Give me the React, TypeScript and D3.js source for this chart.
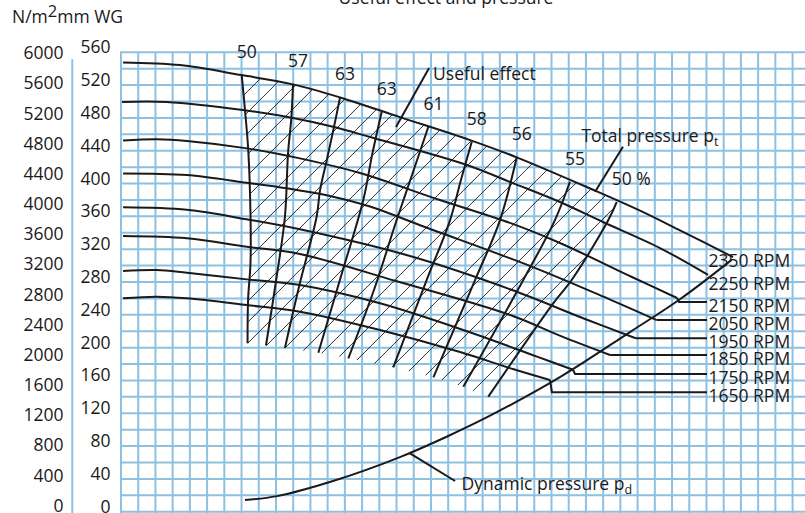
import React from 'react';
import * as d3 from 'd3';

type P = [number, number];

// ---------- DATA (flow in grid cells, pressure in mm WG) ----------
const rpmNames = ['2350 RPM', '2250 RPM', '2150 RPM', '2050 RPM', '1950 RPM', '1850 RPM', '1750 RPM', '1650 RPM'];

const rpm2350: P[] = [[0.12, 547.7], [3.43, 544.5], [7.01, 532.2], [9.99, 520.9], [12.72, 505], [16.2, 481], [20.27, 453], [22.98, 432], [27.41, 392.5], [30.14, 367], [32.46, 343], [35.54, 310.4]];
const rpm2250: P[] = [[0.06, 499.4], [2.65, 499.4], [7.08, 489.6], [9.99, 479.9], [12.31, 469.2], [14.46, 456.7], [20.08, 422.6], [22.76, 400.5], [25.49, 377.5], [27.99, 353.1], [31.3, 321.4], [34.09, 288.6]];
const rpm2150: P[] = [[0.12, 452.5], [2.09, 454], [3.83, 452], [7.32, 442.9], [10.39, 430.7], [13.88, 412.8], [18.52, 379.9], [22.59, 352], [25.49, 327.5], [29.67, 286.1], [32.29, 260.5]];
const rpm2050: P[] = [[0.12, 412.4], [3.83, 410.4], [7.3, 401], [9.62, 394.2], [12.31, 384], [14.46, 372], [17.65, 347], [23.92, 298.2], [28.34, 259.2], [31.11, 233.6]];
const rpm1950: P[] = [[0.12, 371], [3.83, 368], [7.3, 356.4], [10.39, 344.2], [16.78, 311.6], [22.71, 270.2], [26.95, 234.9], [29.85, 211.7]];
const rpm1850: P[] = [[0.12, 336], [3.83, 333.2], [7.3, 323], [10.39, 314.1], [15.97, 281.2], [22.6, 239.7], [25.55, 214], [28.4, 191]];
const rpm1750: P[] = [[0.12, 293.4], [2.07, 294.6], [3.83, 291.3], [7.3, 283.2], [10.39, 276.3], [15.04, 254], [20.38, 217.8], [24.16, 189], [26.25, 173]];
const rpm1650: P[] = [[0.12, 260.1], [2.07, 262.1], [3.83, 260.1], [7.3, 251.9], [10.39, 243.8], [15.04, 221.5], [19.69, 194.6], [22.76, 173.9], [24.91, 160.5]];
const rpmCurves = [rpm2350, rpm2250, rpm2150, rpm2050, rpm1950, rpm1850, rpm1750, rpm1650];
// pressure level at which each curve is led out to its RPM label
const rpmLabelLevel = [310.4, 283, 255.6, 233.6, 211.3, 191, 167.8, 145.5];
const rpmLeadsOut = [false, false, true, true, true, true, true, true];

// iso-lines of useful effect (efficiency, %)
const effLabels = ['50', '57', '63', '63', '61', '58', '56', '55', '50 %'];
const eff50a: P[] = [[7.01, 532.2], [7.2, 489.6], [7.39, 440.8], [7.52, 361.6], [7.52, 303.1], [7.38, 258], [7.35, 205.2]];
const eff57: P[] = [[9.99, 520.9], [9.89, 479.5], [9.7, 436.8], [9.52, 359.5], [9.04, 286.4], [8.42, 202.6]];
const eff63a: P[] = [[12.72, 505], [12.33, 465.2], [11.95, 428.6], [11.56, 392], [11.36, 359.5], [10.39, 278.7], [9.52, 199.5]];
const eff63b: P[] = [[15.14, 487.5], [14.58, 434.7], [14.07, 379.9], [12.78, 287.3], [11.46, 193.8]];
const eff61: P[] = [[17.85, 469.2], [16.9, 410.4], [15.97, 353.1], [14.69, 270.2], [13.2, 187]];
const eff58: P[] = [[20.37, 451], [19.74, 404.3], [19.11, 355.5], [17.75, 282.4], [15.81, 176]];
const eff56: P[] = [[22.98, 432], [22.01, 355.5], [20.56, 282.4], [18.14, 163.8]];
const eff55: P[] = [[26.07, 402.2], [25.2, 355.5], [23.36, 282.4], [19.88, 152.3]];
const eff50b: P[] = [[28.79, 377.8], [28.3, 355.5], [26.17, 282.4], [25.1, 254], [21.33, 140.2]];
const effLines = [eff50a, eff57, eff63a, eff63b, eff61, eff58, eff56, eff55, eff50b];

// dynamic pressure curve
const dynamicPressure: P[] = [[7.2, 14.3], [9.06, 19], [12.31, 37.4], [16.2, 66.6], [18.91, 91.4], [21.43, 117], [25.49, 164], [29.56, 219], [32.46, 259], [35.46, 307]];

// annotation leaders [on curve, at label]
const usefulLeader: P[] = [[15.97, 468.9], [17.89, 540.8]];
const totalLeader: P[] = [[27.53, 389.9], [29.15, 444.8]];
const dynamicLeader: P[] = [[16.78, 71.2], [19.4, 37.4]];

// axis tick labels
const mmWgTicks = [0, 40, 80, 120, 160, 200, 240, 280, 320, 360, 400, 440, 480, 520, 560];
const nm2Ticks = [0, 400, 800, 1200, 1600, 2000, 2400, 2800, 3200, 3600, 4000, 4400, 4800, 5200, 5600, 6000];

// ---------- LAYOUT ----------
const W = 805, H = 513;
const FONT = "'Open Sans', 'Noto Sans', sans-serif";
const FS = 17.5;
const GRID = '#8ec0e2';
const INK = '#1a1a1a';

const x = d3.scaleLinear().domain([0, 39]).range([121, 121 + 39 * 17.22]);
const y = d3.scaleLinear().domain([0, 560]).range([511.7, 52.3]);
const yN = d3.scaleLinear().domain([0, 6000]).range([511.7, 59.3]);

const line = d3.line<P>().x(d => x(d[0])).y(d => y(d[1])).curve(d3.curveCatmullRom.alpha(0.5));
const poly = d3.line<P>().x(d => x(d[0])).y(d => y(d[1]));

export default function App() {
  const vCells = d3.range(0, 41);
  const hLevels = d3.range(0, 561, 20);

  // hatched region
  const L1 = effLines[0];
  const L9 = effLines[effLines.length - 1];
  const topPart = rpm2350.filter(p => p[0] > L1[0][0] && p[0] < L9[0][0]);
  const bottoms = effLines.slice(1, effLines.length - 1).reverse().map(l => l[l.length - 1]);
  const region: P[] = [L1[0], ...topPart, L9[0], ...L9.slice(1), ...bottoms, ...L1.slice().reverse().slice(0, -1)];
  const lb = L1[L1.length - 1];
  const c0 = x(lb[0]) + y(lb[1]);
  const hatchStep = 21;
  const hatchC = d3.range(-16, 18).map(k => c0 + k * hatchStep);

  return (
    <svg width={W} height={H} style={{ position: 'absolute', left: 0, top: 0 }} fontFamily={FONT}>
      <rect x={0} y={0} width={W} height={H} fill="#fff" />
      <defs>
        <clipPath id="hatchClip">
          <path d={poly(region) + 'Z'} />
        </clipPath>
      </defs>

      {/* grid */}
      <g stroke={GRID} strokeWidth={2}>
        {hLevels.map(v => (
          <line key={'h' + v} x1={x(0) - 1} x2={W} y1={y(v)} y2={y(v)} />
        ))}
        {vCells.map(c => (
          <line key={'v' + c} x1={x(c)} x2={x(c)} y1={y(560)} y2={H} />
        ))}
        <line x1={72.3} x2={72.3} y1={yN(6000)} y2={H} />
      </g>

      {/* axis labels */}
      <g fill={INK} fontSize={FS}>
        {nm2Ticks.map(t => (
          <text key={'n' + t} x={63.5} y={yN(t)} textAnchor="end">{t}</text>
        ))}
        {mmWgTicks.map(t => (
          <text key={'m' + t} x={110.5} y={y(t) + 1} textAnchor="end">{t}</text>
        ))}
        <text x={12} y={23}>
          N/m<tspan dy={-6} fontSize={16.5}>2</tspan><tspan dy={6}>mm WG</tspan>
        </text>
        <text x={446} y={4} textAnchor="middle">Useful effect and pressure</text>
      </g>

      {/* hatching */}
      <g clipPath="url(#hatchClip)" stroke={INK} strokeWidth={0.9}>
        {hatchC.map((c, i) => (
          <line key={'ht' + i} x1={c - 460} y1={460} x2={c - 20} y2={20} />
        ))}
      </g>

      {/* efficiency iso-lines */}
      <g fill="none" stroke={INK} strokeWidth={2}>
        {effLines.map((l, i) => (
          <path key={'e' + i} d={line(l) || ''} />
        ))}
      </g>
      <g fill={INK} fontSize={FS}>
        {effLines.map((l, i) => (
          <text key={'el' + i} x={x(l[0][0]) - 5} y={y(l[0][1]) - 17}>{effLabels[i]}</text>
        ))}
      </g>

      {/* fan curves */}
      <g fill="none" stroke={INK} strokeWidth={2}>
        {rpmCurves.map((c, i) => (
          <path key={'r' + i} d={line(c) || ''} />
        ))}
        {rpmCurves.map((c, i) => {
          if (!rpmLeadsOut[i]) return null;
          const last = c[c.length - 1];
          const pts: [number, number][] = [
            [x(last[0]), y(last[1])],
            [x(last[0]) + 2, y(rpmLabelLevel[i])],
            [x(34.03), y(rpmLabelLevel[i])],
          ];
          return <polyline key={'rc' + i} points={pts.map(p => p.join(',')).join(' ')} />;
        })}
        <path d={line(dynamicPressure) || ''} />
        {[usefulLeader, totalLeader, dynamicLeader].map((l, i) => (
          <path key={'ld' + i} d={poly(l) || ''} />
        ))}
      </g>

      {/* RPM labels */}
      <g fill={INK} fontSize={FS}>
        {rpmNames.map((n, i) => (
          <text key={'rl' + i} x={x(34.03) + 1.5} y={y(rpmLabelLevel[i]) + 10}>{n}</text>
        ))}
        <text x={x(usefulLeader[1][0]) + 4} y={y(usefulLeader[1][1]) + 12}>Useful effect</text>
        <text x={x(totalLeader[1][0]) - 41.5} y={y(totalLeader[1][1]) - 5}>
          Total pressure p<tspan dy={4} fontSize={12.5}>t</tspan>
        </text>
        <text x={x(dynamicLeader[1][0]) + 6.5} y={y(dynamicLeader[1][1]) + 9}>
          Dynamic pressure p<tspan dy={4} fontSize={12.5}>d</tspan>
        </text>
      </g>
    </svg>
  );
}
